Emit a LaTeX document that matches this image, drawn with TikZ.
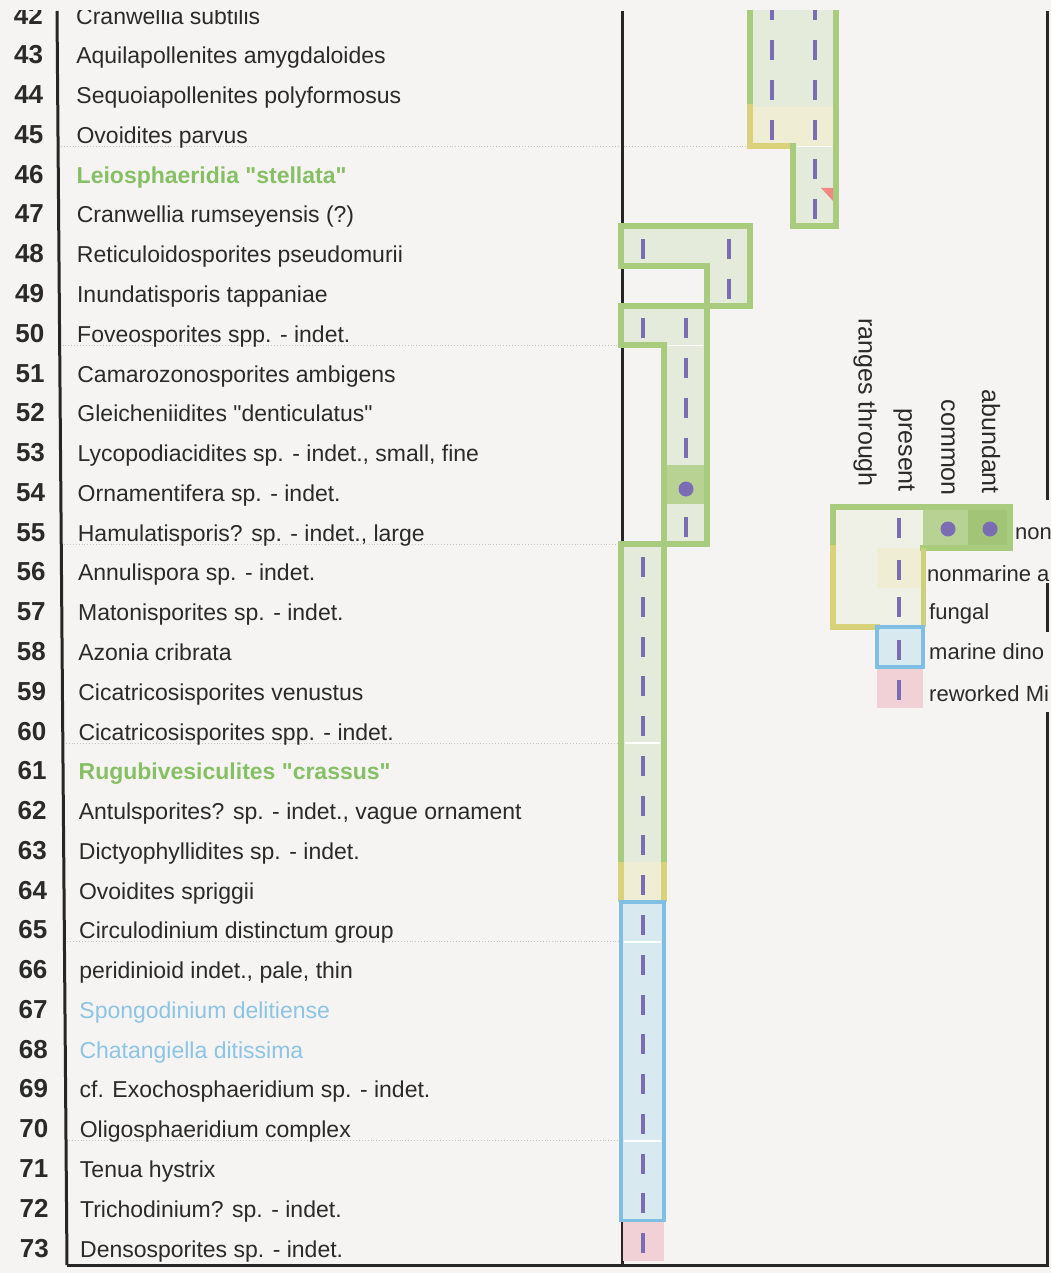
\documentclass[tikz,border=0pt]{standalone}
\usepackage{fontspec}
\newfontfamily\lsans{Liberation Sans}
\definecolor{bg}{HTML}{F5F4F3}
\definecolor{frm}{HTML}{262626}
\definecolor{txt}{HTML}{2A2A2A}
\definecolor{gtxt}{HTML}{86BF64}
\definecolor{btxt}{HTML}{8CC4E4}
\definecolor{gstk}{HTML}{A9CB7D}
\definecolor{gfill}{HTML}{E5EBDB}
\definecolor{ystk}{HTML}{D9D27A}
\definecolor{yfill}{HTML}{EFEDD3}
\definecolor{bstk}{HTML}{7FBFE4}
\definecolor{bfill}{HTML}{D8E9EF}
\definecolor{pfill}{HTML}{F1D0D6}
\definecolor{midg}{HTML}{B8D294}
\definecolor{darkg}{HTML}{A2C476}
\definecolor{purp}{HTML}{7A6DB4}
\definecolor{redtri}{HTML}{F08A80}
\definecolor{dotc}{HTML}{C4C4C4}
\definecolor{lpale}{HTML}{EFF0E6}
\begin{document}
\begin{tikzpicture}[x=1pt,y=-1pt,
  sp/.style={anchor=base west,inner sep=0pt,font=\lsans\fontsize{23}{27}\selectfont,text=txt},
  grn/.style={sp,text=gtxt,font=\lsans\fontsize{23}{27}\selectfont\bfseries},
  blu/.style={sp,text=btxt},
  num/.style={anchor=base east,inner sep=0pt,font=\lsans\fontsize{26}{30}\selectfont\bfseries,text=txt},
  frame/.style={draw=frm,line width=3pt},
  gline/.style={draw=gstk,line width=6pt,line join=miter,line cap=rect},
  yline/.style={draw=ystk,line width=6pt,line join=miter,line cap=rect},
  bline/.style={draw=bstk,line width=3.5pt,line join=miter},
  dsh/.style={draw=purp,line width=4pt},
  wline/.style={draw=white,line width=1.6pt},
  dotline/.style={draw=dotc,line width=0.9pt,dotted},
  hdr/.style={rotate=-90,anchor=east,inner sep=0pt,font=\lsans\fontsize{25}{29}\selectfont,text=txt},
  lab/.style={anchor=base west,inner sep=0pt,font=\lsans\fontsize{22}{26}\selectfont,text=txt}
]
\fill[bg] (0,0) rectangle (1051,1273);
\useasboundingbox (0,0) rectangle (1051,1273);

\begin{scope}
\clip (0,11) rectangle (1051,1273);
% faint row-group lines
\foreach \yy/\xe in {146.46/750,345.31/621,544.16/621,743.01/621,941.86/621,1140.71/621}{
  \pgfmathsetmacro\xa{57+10*(\yy-11)/1254}
  \draw[dotline] (\xa,\yy) -- (\xe,\yy);
}
% table frame lines
\draw[frame] (57,11) -- (67,1265);
\draw[frame] (622,11) -- (622,1265);
% species rows
\foreach \n/\t/\c in {
 42/{Cranwellia subtilis}/sp,
 43/{Aquilapollenites amygdaloides}/sp,
 44/{Sequoiapollenites polyformosus}/sp,
 45/{Ovoidites parvus}/sp,
 46/{Leiosphaeridia "stellata"}/grn,
 47/{Cranwellia rumseyensis (?)}/sp,
 48/{Reticuloidosporites pseudomurii}/sp,
 49/{Inundatisporis tappaniae}/sp,
 50/{Foveosporites spp. - indet.}/sp,
 51/{Camarozonosporites ambigens}/sp,
 52/{Gleicheniidites "denticulatus"}/sp,
 53/{Lycopodiacidites sp. - indet., small, fine}/sp,
 54/{Ornamentifera sp. - indet.}/sp,
 55/{Hamulatisporis? sp. - indet., large}/sp,
 56/{Annulispora sp. - indet.}/sp,
 57/{Matonisporites sp. - indet.}/sp,
 58/{Azonia cribrata}/sp,
 59/{Cicatricosisporites venustus}/sp,
 60/{Cicatricosisporites spp. - indet.}/sp,
 61/{Rugubivesiculites "crassus"}/grn,
 62/{Antulsporites? sp. - indet., vague ornament}/sp,
 63/{Dictyophyllidites sp. - indet.}/sp,
 64/{Ovoidites spriggii}/sp,
 65/{Circulodinium distinctum group}/sp,
 66/{peridinioid indet., pale, thin}/sp,
 67/{Spongodinium delitiense}/blu,
 68/{Chatangiella ditissima}/blu,
 69/{cf. Exochosphaeridium sp. - indet.}/sp,
 70/{Oligosphaeridium complex}/sp,
 71/{Tenua hystrix}/sp,
 72/{Trichodinium? sp. - indet.}/sp,
 73/{Densosporites sp. - indet.}/sp}{
  \pgfmathsetmacro\yb{226+(\n-47)*39.77-3}
  \pgfmathsetmacro\xt{76+4*(\yb-24)/1234}
  \pgfmathsetmacro\xn{43+6*(\yb-24)/1234}
  \node[num] (n\n) at (\xn,\yb) {\n};
  \node[\c] (s\n) at (\xt,\yb) {\t};
}

% ---- range bars: fills
\fill[gfill] (750,0) -- (836,0) -- (836,226) -- (793,226) -- (793,146.46) -- (750,146.46) -- cycle;
\fill[yfill] (750,106.69) rectangle (836,146.46);
\fill[gfill] (621,226) -- (750,226) -- (750,305.54) -- (707,305.54) -- (707,265.77) -- (621,265.77) -- cycle;
\fill[gfill] (621,305.54) -- (707,305.54) -- (707,544.16) -- (664,544.16) -- (664,345.31) -- (621,345.31) -- cycle;
\fill[midg] (664,464.62) rectangle (707,504.39);
\fill[gfill] (621,544.16) rectangle (664,862.32);
\fill[yfill] (621,862.32) rectangle (664,902.09);
\fill[bfill] (621,902.09) rectangle (664,1220.25);
\fill[pfill] (623,1220.25) rectangle (664,1261);
\fill[redtri] (821,188) -- (834,188) -- (834,202) -- cycle;

% ---- range bars: outlines
\draw[gline] (750,0) -- (750,106.69);
\draw[yline] (750,106.69) -- (750,146.46) -- (793,146.46);
\draw[gline] (793,146.46) -- (793,226) -- (836,226) -- (836,0);
\draw[gline] (621,226) -- (750,226) -- (750,305.54) -- (707,305.54) -- (707,265.77) -- (621,265.77) -- cycle;
\draw[gline] (621,305.54) -- (707,305.54) -- (707,544.16) -- (664,544.16) -- (664,345.31) -- (621,345.31) -- cycle;
\draw[gline] (621,862.32) -- (621,544.16) -- (664,544.16) -- (664,862.32);
\draw[yline,line cap=butt] (621,862.32) -- (621,902.09);
\draw[yline,line cap=butt] (664,862.32) -- (664,902.09);
\draw[bline] (621,902.09) rectangle (664,1220.25);

% white group separators across bars
\draw[wline] (797,146.46) -- (832,146.46);
\draw[wline] (668,345.31) -- (703,345.31);
\draw[wline] (625,743.01) -- (660,743.01);
\draw[wline] (624,941.86) -- (661,941.86);
\draw[wline] (624,1140.71) -- (661,1140.71);

% dashes (present)
\foreach \cx/\n in {771.5/42,771.5/43,771.5/44,771.5/45,
  814.5/42,814.5/43,814.5/44,814.5/45,814.5/46,814.5/47,
  642.5/48,728.5/48,728.5/49,642.5/50,685.5/50,685.5/51,685.5/52,685.5/53,685.5/55,
  642.5/56,642.5/57,642.5/58,642.5/59,642.5/60,642.5/61,642.5/62,642.5/63,642.5/64,
  642.5/65,642.5/66,642.5/67,642.5/68,642.5/69,642.5/70,642.5/71,642.5/72,642.5/73}{
  \draw[dsh] (\cx,{226+(\n-48)*39.77+12.9}) -- ++(0,20);
}
% common dot
\fill[purp] (686,489) circle (7.5);
\end{scope}

% outer frame
\draw[frame] (1047,11) -- (1047,500);
\draw[frame] (1047,583) -- (1047,632);
\draw[frame] (1047,712) -- (1047,1265);
\draw[frame] (67,1265) -- (1048.5,1265);

% ---- legend
\node[hdr] (hRange) at (865,487) {ranges through};
\node[hdr] (hPres) at (904,492) {present};
\node[hdr] (hComm) at (948,496) {common};
\node[hdr] (hAbun) at (991,494) {abundant};

\fill[lpale] (833,507) -- (1010,507) -- (1010,548) -- (923,548) -- (923,627) -- (833,627) -- cycle;
\fill[yfill] (877,548) rectangle (923,588);
\fill[midg] (923,507) rectangle (968,548);
\fill[darkg] (968,507) rectangle (1010,548);
\fill[bfill] (877,627) rectangle (923,667);
\fill[pfill] (877,667) rectangle (923,708);
\draw[gline] (833,548) -- (833,507) -- (1010,507) -- (1010,548) -- (923,548);
\draw[yline] (833,548) -- (833,627) -- (877,627);
\draw[draw=ystk!70!gstk,line width=5pt] (923,548) -- (923,627);
\draw[bline] (877,627) rectangle (923,667);
\foreach \yy in {528,570,607,650,690}{
  \draw[dsh] (899,\yy-10) -- (899,\yy+10);
}
\fill[purp] (948,529) circle (7.5);
\fill[purp] (990,529) circle (7.5);

\node[lab] (lNon) at (1015,539) {non};
\node[lab] (lAlg) at (927,581) {nonmarine a};
\node[lab] (lFun) at (929,619) {fungal};
\node[lab] (lDin) at (929,659) {marine dino};
\node[lab] (lRew) at (929,701) {reworked Mi};
\end{tikzpicture}
\end{document}
